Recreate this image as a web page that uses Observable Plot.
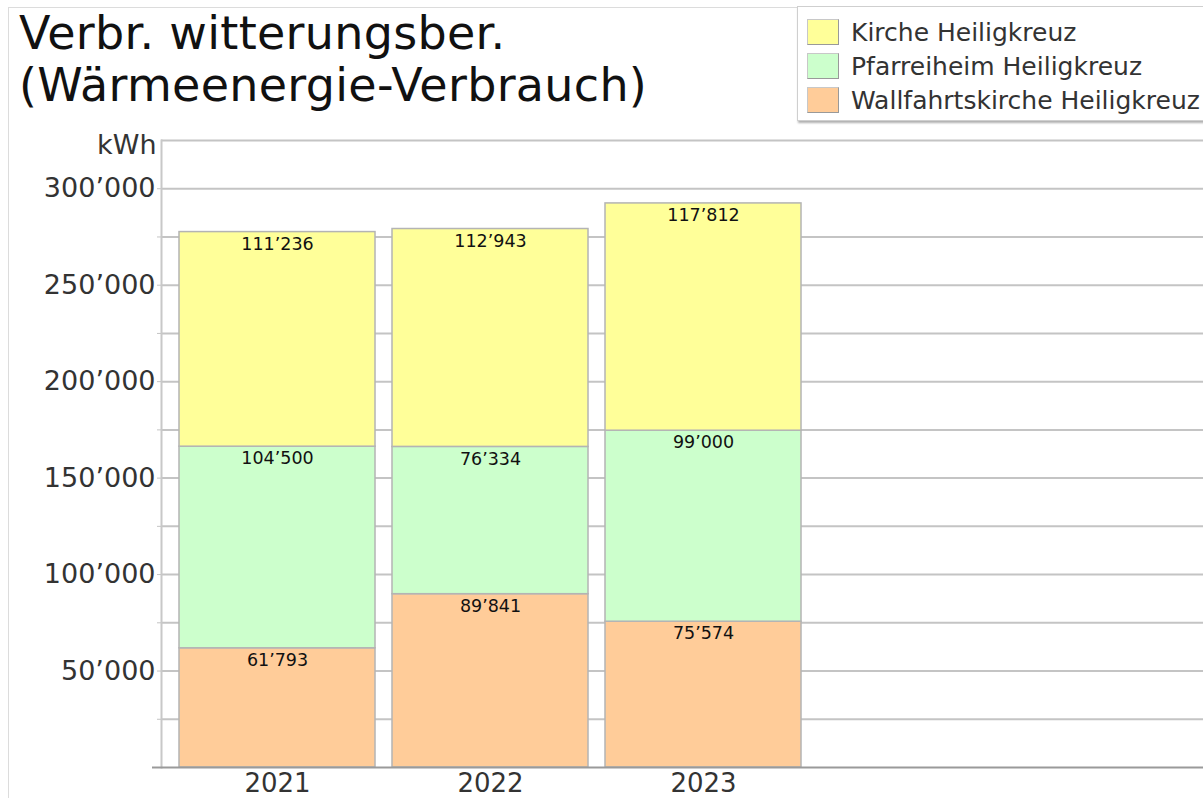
<!DOCTYPE html>
<html>
<head>
<meta charset="utf-8">
<script src="https://cdn.jsdelivr.net/npm/d3@7"></script>
<script src="https://cdn.jsdelivr.net/npm/@observablehq/plot@0.6"></script>
<style>
  html, body { margin: 0; padding: 0; background: #fff; }
  body { width: 1203px; height: 798px; position: relative; overflow: hidden; font-family: "DejaVu Sans", Verdana, sans-serif; }
  #border { position: absolute; left: 8px; top: 7px; width: 1300px; height: 900px; border: 1px solid #dcdcdc; }
  #chart { position: absolute; left: 0; top: 0; }
  #title { position: absolute; left: 19px; top: 7px; font-size: 46px; line-height: 52px; letter-spacing: 0.3px; color: #111; white-space: nowrap; }
  #legend { position: absolute; left: 797px; top: 6px; width: 420px; height: 113px; background: #fff; border: 1px solid #cfcfcf; box-shadow: 1px 2px 2px #b0b0b0; }
  .li { position: absolute; left: 9px; height: 34px; display: flex; align-items: center; font-size: 25px; color: #333; white-space: nowrap; }
  .sw { width: 30px; height: 24px; margin-right: 12px; border: 1px solid #c8c8c8; border-right-color: #999; border-bottom-color: #999; }
</style>
</head>
<body>
<div id="border"></div>
<div id="chart"></div>
<div id="title">Verbr. witterungsber.<br>(Wärmeenergie-Verbrauch)</div>
<div id="legend"></div>
<script>
const years = ["2021", "2022", "2023"];
const series = ["Wallfahrtskirche Heiligkreuz", "Pfarreiheim Heiligkreuz", "Kirche Heiligkreuz"];
const colors = ["#FFCC99", "#CCFFCC", "#FFFF99"];
const wallfahrtskirche = [61793, 89841, 75574];
const pfarreiheim = [104500, 76334, 99000];
const kirche = [111236, 112943, 117812];
const yTicks = [50000, 100000, 150000, 200000, 250000, 300000];
const gridTicks = [25000, 50000, 75000, 100000, 125000, 150000, 175000, 200000, 225000, 250000, 275000, 300000, 325000];
const legendOrder = ["Kirche Heiligkreuz", "Pfarreiheim Heiligkreuz", "Wallfahrtskirche Heiligkreuz"];

const values = [wallfahrtskirche, pfarreiheim, kirche];
const data = [];
series.forEach((s, i) => years.forEach((y, j) => data.push({year: y, series: s, value: values[i][j]})));

const fmt = d3.formatLocale({decimal: ".", thousands: "’", grouping: [3], currency: ["", ""]}).format(",");

const chart = Plot.plot({
  width: 1203,
  height: 798,
  marginLeft: 161,
  marginTop: 140,
  marginBottom: 31,
  marginRight: 0,
  style: {fontFamily: "DejaVu Sans, Verdana, sans-serif", background: "transparent"},
  x: {domain: years, range: [161, 820], paddingInner: 0.078, paddingOuter: 0.08},
  y: {domain: [0, 325000]},
  color: {domain: series, range: colors},
  marks: [
    Plot.ruleY(gridTicks, {stroke: "#c4c4c4", strokeWidth: 2}),
    Plot.frame({anchor: "left", stroke: "#c8c8c8", strokeWidth: 2}),
    Plot.axisY({ticks: gridTicks.filter(d => d < 325000), tickSize: 4, stroke: "#c4c4c4", tickPadding: 2, tickFormat: d => yTicks.includes(d) ? fmt(d) : "", fontSize: 27, fill: "#333", label: null}),
    Plot.axisY({ticks: [0], tickSize: 9, stroke: "#9a9a9a", strokeWidth: 2, tickFormat: () => "", label: null}),
    Plot.axisX({tickSize: 0, tickPadding: 6, fontSize: 26, fill: "#333", label: null}),
    Plot.barY(data, Plot.stackY({x: "year", y: "value", z: "series", fill: "series", order: series, stroke: "#b4b4b4", strokeWidth: 1.5})),
    Plot.ruleY([0], {stroke: "#9a9a9a", strokeWidth: 2}),
    Plot.text(data, Plot.stackY2({x: "year", y: "value", z: "series", order: series, text: d => fmt(d.value), dy: 12, fontSize: 17.5, fill: "#111", fontWeight: 500})),
    Plot.text(["kWh"], {frameAnchor: "top-left", dx: -5, dy: 5, textAnchor: "end", lineAnchor: "middle", fontSize: 27, fill: "#333"})
  ]
});
document.getElementById("chart").appendChild(chart);

const legend = document.getElementById("legend");
legendOrder.forEach((s, i) => {
  const row = document.createElement("div");
  row.className = "li";
  row.style.top = (8 + i * 34) + "px";
  const sw = document.createElement("div");
  sw.className = "sw";
  sw.style.background = colors[series.indexOf(s)];
  const t = document.createElement("span");
  t.textContent = s;
  row.appendChild(sw);
  row.appendChild(t);
  legend.appendChild(row);
});
</script>
</body>
</html>
